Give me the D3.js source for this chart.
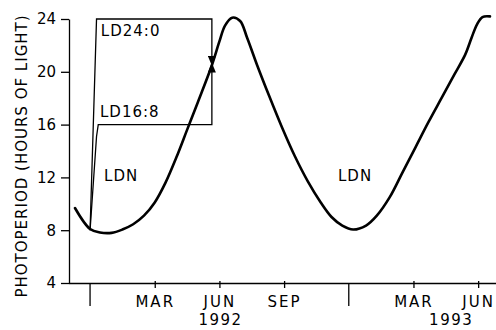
<!DOCTYPE html>
<html>
<head>
<meta charset="utf-8">
<script src="https://cdn.jsdelivr.net/npm/d3@7"></script>
<style>
  body { margin: 0; background: white; }
  text { font-family: "DejaVu Sans", sans-serif; fill: black; }
</style>
</head>
<body>
<svg id="chart" width="496" height="330"></svg>
<script>
// natural daylength (LDN), months counted from the 1992 year tick
const ldnMonth = [-0.70, 0.00, 0.46, 1.00, 1.50, 2.00, 2.50, 3.00, 3.50, 4.00, 4.50, 5.00, 5.65, 6.00, 6.26, 6.59, 6.96, 7.28, 7.75, 8.30, 8.90, 9.50, 10.10, 10.70, 11.20, 11.70, 12.20, 12.80, 13.30, 13.90, 14.50, 15.10, 15.70, 16.30, 16.90, 17.40, 17.70, 17.95, 18.20, 18.55];
const ldnHours = [9.68, 8.09, 7.83, 7.80, 8.05, 8.45, 9.10, 10.10, 11.60, 13.50, 15.60, 17.70, 20.50, 22.30, 23.50, 24.10, 23.85, 22.60, 20.50, 18.20, 15.80, 13.60, 11.70, 10.10, 9.00, 8.35, 8.05, 8.35, 9.10, 10.50, 12.40, 14.30, 16.20, 18.00, 19.80, 21.30, 22.60, 23.60, 24.15, 24.20];

// constant photoperiod treatments
const ld24Month = [0, 0.30, 5.65, 5.65];
const ld24Hours = [8.0, 24.0, 24.0, 20.45];
const ld16Month = [0, 0.30, 0.38, 5.65, 5.65];
const ld16Hours = [8.0, 15.1, 16.0, 16.0, 20.7];

const hourTicks = [4, 8, 12, 16, 20, 24];
const monthTicks = [3, 6, 9, 15, 18];
const monthLabels = ["MAR", "JUN", "SEP", "MAR", "JUN"];
const yearTicks = [0, 12];
const yearLabels = ["1992", "1993"];
const yearLabelAt = [6.05, 16.75];

const svg = d3.select("svg#chart");

const x = d3.scaleLinear().domain([-1, 19]).range([68.5, 499.7]);
const y = d3.scaleLinear().domain([4, 24]).range([283, 19]);

// arrow heads
const defs = svg.append("defs");
defs.append("marker")
    .attr("id", "arrow")
    .attr("viewBox", "0 -4 10 8")
    .attr("refX", 10).attr("refY", 0)
    .attr("markerWidth", 10).attr("markerHeight", 8)
    .attr("markerUnits", "userSpaceOnUse")
    .attr("orient", "auto")
    .append("path").attr("d", "M0,-4L10,0L0,4Z").attr("fill", "black");

// y axis
const yAxis = svg.append("g")
    .attr("transform", `translate(${x(-1) + 0.5},0)`)
    .call(d3.axisLeft(y).tickValues(hourTicks).tickSize(8).tickSizeOuter(0).tickPadding(5));
yAxis.selectAll("path, line").attr("stroke", "black").attr("stroke-width", 1.3);
yAxis.selectAll("text").style("font-size", "15px").attr("fill", "black");

// x axis: short ticks for months
const xAxis = svg.append("g")
    .attr("transform", `translate(0,${y(4)})`)
    .call(d3.axisBottom(x).tickValues(monthTicks).tickSize(5).tickSizeOuter(0)
        .tickFormat((d, i) => monthLabels[i]));
xAxis.selectAll("path, line").attr("stroke", "black").attr("stroke-width", 1.3);
xAxis.selectAll("line").attr("y1", -2);
xAxis.selectAll("text")
    .style("font-size", "15px").style("letter-spacing", "2px")
    .attr("y", 13).attr("fill", "black");

// long ticks at the year boundaries
svg.selectAll("line.year").data(yearTicks).join("line")
    .attr("class", "year")
    .attr("x1", d => x(d)).attr("x2", d => x(d))
    .attr("y1", y(4)).attr("y2", y(4) + 23)
    .attr("stroke", "black").attr("stroke-width", 1.3);

svg.selectAll("text.year").data(yearLabels).join("text")
    .attr("class", "year")
    .attr("x", (d, i) => x(yearLabelAt[i]))
    .attr("y", 325)
    .attr("text-anchor", "middle")
    .style("font-size", "15px").style("letter-spacing", "1.5px")
    .text(d => d);

// y title
svg.append("text")
    .attr("transform", "translate(27,156) rotate(-90)")
    .attr("text-anchor", "middle")
    .style("font-size", "15px").style("letter-spacing", "1px")
    .text("PHOTOPERIOD (HOURS OF LIGHT)");

// treatment lines
const stepLine = d3.line().x(d => x(d[0])).y(d => y(d[1]));
[[ld24Month, ld24Hours], [ld16Month, ld16Hours]].forEach(([m, h]) => {
    svg.append("path")
        .datum(d3.zip(m, h))
        .attr("d", stepLine)
        .attr("fill", "none")
        .attr("stroke", "black")
        .attr("stroke-width", 1.3)
        .attr("marker-end", "url(#arrow)");
});

// natural photoperiod curve
const curve = d3.line().x(d => x(d[0])).y(d => y(d[1])).curve(d3.curveCatmullRom.alpha(0.5));
svg.append("path")
    .datum(d3.zip(ldnMonth, ldnHours))
    .attr("d", curve)
    .attr("fill", "none")
    .attr("stroke", "black")
    .attr("stroke-width", 2.6)
    .attr("stroke-linecap", "round");

// labels
const labels = [
    {t: "LD24:0", m: 0.5, h: 22.7},
    {t: "LD16:8", m: 0.46, h: 16.6},
    {t: "LDN", m: 0.65, h: 11.75},
    {t: "LDN", m: 11.5, h: 11.75}
];
svg.selectAll("text.lab").data(labels).join("text")
    .attr("class", "lab")
    .attr("x", d => x(d.m))
    .attr("y", d => y(d.h))
    .style("font-size", "15px").style("letter-spacing", "1px")
    .text(d => d.t);
</script>
</body>
</html>
